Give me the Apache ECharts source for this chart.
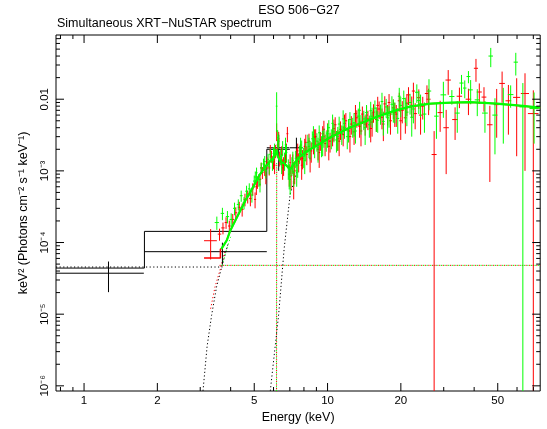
<!DOCTYPE html>
<html><head><meta charset="utf-8">
<script src="https://cdn.jsdelivr.net/npm/echarts@6/dist/echarts.min.js"></script>
<style>html,body{margin:0;padding:0;background:#fff}#c{width:547px;height:429px}</style>
</head><body><div id="c"></div>
<script>
// ---------- axis ranges & ticks ----------
const XMIN = 0.767, XMAX = 74.7, YMIN = 8.47e-7, YMAX = 0.0787;
const xMajorTicks = [1, 2, 5, 10, 20, 50];
const xTickLabels = ['1', '2', '5', '10', '20', '50'];
const xMinorTicks = [0.8, 0.9, 3, 4, 6, 7, 8, 9, 30, 40, 60, 70];
const yMajorTicks = [1e-6, 1e-5, 1e-4, 1e-3, 1e-2];
const yTickLabels = ['10\u207B\u2076', '10\u207B\u2075', '10\u207B\u2074', '10\u207B\u00B3', '0.01'];
const yMinorTicks = [2e-6,3e-6,4e-6,5e-6,6e-6,7e-6,8e-6,9e-6,
  2e-5,3e-5,4e-5,5e-5,6e-5,7e-5,8e-5,9e-5,
  2e-4,3e-4,4e-4,5e-4,6e-4,7e-4,8e-4,9e-4,
  2e-3,3e-3,4e-3,5e-3,6e-3,7e-3,8e-3,9e-3,
  2e-2,3e-2,4e-2,5e-2,6e-2,7e-2];

// ---------- model curves (E keV, E^2 F) ----------
const modelE = [3.66,3.86,3.98,4.17,4.37,4.58,4.81,5.04,5.28,5.54,5.81,6.03,6.12,6.18,6.24,6.40,6.71,7.02,7.12,7.36,7.71,8.48,9.32,10.24,11.26,12.37,14.26,16.43,18.93,21.8,26.4,31.9,38.5,49.7,61.7,74.7];
const modelF = [8.1e-5,1.08e-4,1.45e-4,1.99e-4,2.74e-4,3.77e-4,5.02e-4,6.70e-4,8.93e-4,1.12e-3,1.36e-3,1.54e-3,1.75e-3,2.0e-3,1.6e-3,1.36e-3,1.23e-3,1.05e-3,1.0e-3,1.31e-3,1.59e-3,1.99e-3,2.41e-3,2.92e-3,3.43e-3,4.02e-3,4.87e-3,5.90e-3,6.92e-3,7.87e-3,8.66e-3,8.94e-3,9.08e-3,8.66e-3,8.12e-3,7.62e-3];
const redModelStartE = [3.11, 3.63, 3.63, 3.66];
const redModelStartF = [6.1e-5, 6.1e-5, 8.1e-5, 8.1e-5];

// XRT model histogram (step)
const xrtModelE = [0.767, 1.77, 5.63, 7.0];
const xrtModelF = [4.4e-5, 1.43e-4, 2.0e-3, 2.0e-3];

// dotted components
const scatBlackE = [0.767, 3.7];
const scatBlackF = [4.55e-5, 4.55e-5];
const scatNuE = [3.6, 74.7];
const scatNuF = [4.8e-5, 4.8e-5];
const absBlackE = [3.08, 3.2, 3.34, 3.5, 3.69, 3.9];
const absBlackF = [8.5e-7, 3.5e-6, 9.6e-6, 2.4e-5, 4.8e-5, 9.5e-5];
const absRedE = [3.31, 3.45, 3.63, 3.8];
const absRedF = [1.19e-5, 2.4e-5, 4.3e-5, 8e-5];
const absGreenE = [3.69, 3.85, 4.0];
const absGreenF = [4.8e-5, 8.1e-5, 1.2e-4];
const lineGreenE = [6.17, 6.18];
const lineGreenF = [8.0e-7, 1.4e-3];
const lineRedE = [6.175, 6.185];
const lineRedF = [8.0e-7, 1.3e-3];
const xrtAbsE = [5.82, 6.3, 6.63, 7.02, 7.5];
const xrtAbsF = [8.5e-7, 1.0e-5, 8e-5, 4.7e-4, 1.0e-3];

// ---------- data: [E, half-width, E^2F, sigma] ----------
const xrtRows = [
  [1.26, 0.50, 3.73e-5, 1.7e-5],
  [3.70, 1.93, 7.45e-5, 2.5e-5],
  [6.30, 0.67, 2.1e-3, 1.1e-3],
  [7.45, 0.45, 2.1e-3, 8e-4]
];
const fpmaRows = [
  [3.31,0.20,1.06e-4,4.8e-5],[3.60,0.06,1.31e-4,2.5e-5],[3.72,0.06,1.6e-4,3.0e-5],[3.83,0.05,1.9e-4,3.5e-5],
  [3.95,0.05,1.7e-4,3.2e-5],[4.08,0.06,2.1e-4,4e-5],[4.20,0.06,2.6e-4,5e-5],[4.34,0.06,3.1e-4,6e-5],
  [4.46,0.06,2.9e-4,6e-5],[4.58,0.06,4.0e-4,8e-5],[4.70,0.06,4.4e-4,9e-5],[4.82,0.06,4.1e-4,9e-5],
  [4.93,0.05,5.6e-4,1.1e-4],[5.04,0.05,4.0e-4,1.0e-4],[5.15,0.05,7.0e-4,1.4e-4],[5.28,0.06,7.6e-4,1.5e-4],
  [5.40,0.06,9.5e-4,1.8e-4],[5.52,0.06,1.05e-3,2.0e-4],[5.64,0.06,1.3e-3,2.5e-4],[5.76,0.06,1.1e-3,2.4e-4],
  [5.88,0.06,1.6e-3,3e-4],[6.00,0.06,1.35e-3,3e-4],[6.12,0.06,1.9e-3,4e-4],[6.18,0.04,3.6e-3,1.0e-3],
  [6.24,0.06,2.3e-3,4.5e-4],[6.36,0.06,1.5e-3,3.5e-4],[6.48,0.06,1.7e-3,5e-4],[6.60,0.06,1.2e-3,3.5e-4],
  [6.72,0.06,1.6e-3,4e-4],[6.84,0.06,3.3e-3,8e-4],[6.96,0.06,9.0e-4,3e-4],[7.08,0.06,8.5e-4,3e-4],
  [7.20,0.06,1.3e-3,4e-4],[7.33,0.07,1.0e-3,3.5e-4],[7.47,0.07,1.6e-3,4.5e-4],[7.61,0.07,1.35e-3,4e-4],
  [7.75,0.07,1.9e-3,5e-4],[7.90,0.08,1.5e-3,4.5e-4],[8.06,0.08,2.2e-3,6e-4],[8.22,0.08,1.7e-3,5e-4],
  [8.39,0.09,2.6e-3,7e-4],[8.57,0.09,1.9e-3,6e-4],[8.75,0.09,2.4e-3,7e-4],[8.94,0.10,3.0e-3,8e-4],
  [9.14,0.10,2.0e-3,6e-4],[9.34,0.10,2.7e-3,8e-4],[9.55,0.11,3.3e-3,9e-4],[9.77,0.11,2.4e-3,8e-4],
  [10.0,0.12,3.6e-3,1.0e-3],[10.24,0.12,2.6e-3,8e-4],[10.49,0.13,3.1e-3,9e-4],[10.75,0.13,4.4e-3,1.2e-3],
  [11.02,0.14,2.8e-3,9e-4],[11.30,0.14,3.8e-3,1.1e-3],[11.59,0.15,3.2e-3,1.0e-3],[11.89,0.15,5.0e-3,1.4e-3],
  [12.20,0.16,3.6e-3,1.1e-3],[12.52,0.16,4.5e-3,1.3e-3],[12.85,0.17,3.5e-3,1.2e-3],[13.19,0.17,5.5e-3,1.5e-3],
  [13.54,0.18,4.2e-3,1.3e-3],[13.90,0.18,6.2e-3,1.7e-3],[14.27,0.19,4.5e-3,1.4e-3],[14.65,0.19,5.3e-3,1.6e-3],
  [15.04,0.20,3.9e-3,1.4e-3],[15.44,0.20,6.6e-3,1.9e-3],[15.86,0.21,5.2e-3,1.7e-3],[16.29,0.22,7.3e-3,2.0e-3],
  [16.73,0.22,5.6e-3,1.8e-3],[17.18,0.23,8.6e-3,2.4e-3],[17.65,0.24,6.3e-3,2.0e-3],[18.13,0.25,5.0e-3,1.8e-3],
  [18.63,0.26,7.6e-3,2.3e-3],[19.15,0.27,6.2e-3,2.1e-3],[19.70,0.28,9.5e-3,2.8e-3],[20.27,0.30,7.0e-3,2.4e-3],
  [20.87,0.31,5.5e-3,2.2e-3],[21.50,0.33,1.15e-2,3.2e-3],[22.17,0.35,8.2e-3,2.7e-3],[22.90,0.38,6.3e-3,2.5e-3],
  [23.70,0.40,1.05e-2,3.2e-3],[24.6,0.45,8.0e-3,2.8e-3],[25.6,0.5,1.2e-2,3.6e-3],
  [26.0,0.5,1.0e-2,4e-3],[27.4,0.65,1.69e-3,1.9e-3],[29.0,0.7,6.5e-3,3e-3],[30.7,0.8,4.0e-3,3.1e-3],
  [31.3,0.8,1.85e-2,7e-3],[33.4,0.9,5.2e-3,2.5e-3],[34.8,0.9,1.1e-2,3.5e-3],[37.9,1.0,1.0e-2,4e-3],
  [40.7,0.8,2.7e-2,9.5e-3],[42.0,1.0,1.26e-2,4e-3],[43.9,1.0,1.07e-2,4e-3],[46.4,1.2,4.4e-3,3.7e-3],
  [49.5,1.3,8.4e-3,5.5e-3],[52.1,1.4,1.66e-2,7.7e-3],[55.3,1.5,9.5e-3,6.3e-3],[59.8,2.0,1.06e-2,9e-3],
  [64.7,2.5,1.2e-2,1.1e-2],[70.0,3.5,6.3e-3,7e-3],
  [5.10,0.05,6.0e-4,1.4e-4],[5.34,0.05,1.1e-3,2e-4],[5.58,0.05,8.5e-4,2e-4],[5.82,0.05,1.9e-3,4e-4],
  [6.06,0.05,1.2e-3,3e-4],[6.30,0.05,2.8e-3,7e-4],[6.54,0.05,1.1e-3,3.5e-4],[6.78,0.05,1.9e-3,5e-4],
  [7.02,0.05,1.3e-3,4e-4],[7.26,0.06,7.0e-4,3e-4],[7.54,0.06,1.9e-3,5e-4],[7.83,0.07,1.2e-3,4.5e-4],
  [8.14,0.07,2.5e-3,7e-4],[8.48,0.08,1.5e-3,5.5e-4],[8.85,0.08,2.9e-3,9e-4],[9.24,0.09,1.8e-3,7e-4],
  [9.66,0.10,3.8e-3,1.2e-3],[10.12,0.11,2.2e-3,8e-4],[10.62,0.12,3.9e-3,1.3e-3],[11.16,0.13,2.6e-3,1.0e-3],
  [11.74,0.14,4.6e-3,1.5e-3],[12.36,0.15,3.0e-3,1.2e-3],[13.02,0.16,6.3e-3,2e-3],[13.72,0.17,3.6e-3,1.4e-3],
  [14.46,0.18,6.0e-3,2e-3],[15.24,0.19,4.8e-3,1.8e-3],[16.07,0.20,8.2e-3,2.6e-3],[16.95,0.21,4.5e-3,1.9e-3],
  [17.89,0.23,9.0e-3,2.8e-3],[18.89,0.25,6.5e-3,2.4e-3],[19.98,0.27,5.0e-3,2.3e-3],[21.17,0.30,8.8e-3,3.0e-3],
  [22.52,0.33,1.3e-2,4e-3],[24.1,0.38,6.0e-3,2.8e-3]
];
const fpmbRows = [
  [3.51,0.07,1.9e-4,4e-5],[3.70,0.06,2.55e-4,5e-5],[3.88,0.06,2.3e-4,4.5e-5],[4.02,0.06,2.1e-4,4.5e-5],
  [4.15,0.06,3.0e-4,6e-5],[4.30,0.06,3.4e-4,6e-5],[4.42,0.06,4.5e-4,8e-5],[4.54,0.06,3.6e-4,7e-5],
  [4.65,0.06,5.2e-4,1e-4],[4.77,0.06,5.6e-4,1.1e-4],[4.89,0.06,4.6e-4,1e-4],[5.00,0.06,7.2e-4,1.4e-4],
  [5.11,0.05,9.4e-4,1.7e-4],[5.22,0.05,7.5e-4,1.5e-4],[5.34,0.06,1.1e-3,2.0e-4],[5.46,0.06,1.25e-3,2.3e-4],
  [5.58,0.06,1.0e-3,2.2e-4],[5.70,0.06,1.45e-3,2.8e-4],[5.82,0.06,1.7e-3,3.2e-4],[5.94,0.06,1.3e-3,3e-4],
  [6.06,0.06,2.0e-3,4e-4],[6.18,0.05,8.0e-3,4.5e-3],[6.30,0.06,2.6e-3,6e-4],[6.42,0.06,1.6e-3,4e-4],
  [6.54,0.06,2.1e-3,5e-4],[6.66,0.06,1.4e-3,4e-4],[6.78,0.06,1.8e-3,5e-4],[6.90,0.06,1.1e-3,3.5e-4],
  [7.02,0.06,7.6e-4,3e-4],[7.14,0.06,1.2e-3,3.5e-4],[7.27,0.07,9.5e-4,3.5e-4],[7.40,0.07,1.5e-3,4e-4],
  [7.54,0.07,1.2e-3,4e-4],[7.68,0.07,1.75e-3,5e-4],[7.83,0.08,2.1e-3,5.5e-4],[7.98,0.08,1.6e-3,5e-4],
  [8.14,0.08,1.9e-3,5.5e-4],[8.30,0.08,2.5e-3,7e-4],[8.48,0.09,2.0e-3,6e-4],[8.66,0.09,2.8e-3,7.5e-4],
  [8.85,0.10,2.2e-3,7e-4],[9.04,0.10,2.6e-3,7.5e-4],[9.24,0.10,3.4e-3,9e-4],[9.45,0.11,2.3e-3,7.5e-4],
  [9.66,0.11,3.0e-3,9e-4],[9.88,0.11,2.7e-3,8.5e-4],[10.12,0.12,4.0e-3,1.1e-3],[10.36,0.12,2.9e-3,9e-4],
  [10.62,0.13,3.5e-3,1.0e-3],[10.88,0.13,2.7e-3,9e-4],[11.16,0.14,4.5e-3,1.2e-3],[11.44,0.14,3.3e-3,1.0e-3],
  [11.74,0.15,4.0e-3,1.2e-3],[12.05,0.15,3.0e-3,1.0e-3],[12.36,0.16,5.2e-3,1.4e-3],[12.69,0.16,4.2e-3,1.3e-3],
  [13.02,0.17,3.6e-3,1.2e-3],[13.37,0.17,5.8e-3,1.6e-3],[13.72,0.18,4.6e-3,1.4e-3],[14.09,0.18,5.3e-3,1.6e-3],
  [14.46,0.19,6.5e-3,1.8e-3],[14.85,0.19,4.4e-3,1.5e-3],[15.24,0.20,5.8e-3,1.8e-3],[15.65,0.21,7.5e-3,2.1e-3],
  [16.07,0.21,5.1e-3,1.7e-3],[16.51,0.22,6.4e-3,2.0e-3],[16.95,0.23,4.9e-3,1.8e-3],[17.41,0.23,7.8e-3,2.3e-3],
  [17.89,0.24,6.0e-3,2.0e-3],[18.38,0.25,8.5e-3,2.5e-3],[18.89,0.26,6.8e-3,2.2e-3],[19.42,0.27,5.4e-3,2.1e-3],
  [19.98,0.29,8.2e-3,2.6e-3],[20.56,0.30,1.02e-2,3.0e-3],[21.17,0.32,6.6e-3,2.4e-3],[21.82,0.34,9.0e-3,2.9e-3],
  [22.52,0.36,7.3e-3,2.7e-3],[23.26,0.39,1.25e-2,3.6e-3],[24.1,0.42,8.6e-3,3.0e-3],[25.0,0.46,6.2e-3,2.8e-3],
  [26.1,0.55,1.3e-2,6e-3],[28.0,0.6,5.8e-3,3e-3],[29.9,0.8,1.15e-2,6e-3],[32.4,0.8,1.09e-2,2.5e-3],
  [34.1,0.8,6.4e-3,3e-3],[35.5,0.7,1.68e-2,5e-3],[36.6,0.6,1.43e-2,4e-3],[37.9,0.7,2.07e-2,4e-3],
  [38.7,0.8,1.35e-2,5e-3],[41.2,1.0,9.8e-3,4e-3],[44.3,1.2,6.4e-3,3e-3],[46.8,1.0,4.0e-2,1.2e-2],
  [48.7,1.2,6.0e-3,4.3e-3],[52.7,1.5,8.4e-3,6e-3],[56.5,1.5,1.16e-2,4e-3],[59.3,1.2,3.29e-2,1.15e-2],
  [63.4,2.0,7.8e-3,9e-3],[70.5,3.0,7.4e-3,5e-3],
  [5.05,0.05,8.2e-4,1.6e-4],[5.28,0.05,6.5e-4,1.5e-4],[5.52,0.05,1.35e-3,2.6e-4],[5.76,0.05,1.15e-3,2.6e-4],
  [6.00,0.05,1.75e-3,4e-4],[6.24,0.05,2.9e-3,8e-4],[6.48,0.05,1.3e-3,4e-4],[6.72,0.05,2.3e-3,6e-4],
  [6.96,0.05,9.0e-4,3.5e-4],[7.20,0.06,1.4e-3,4.5e-4],[7.47,0.06,1.0e-3,4e-4],[7.75,0.07,2.3e-3,6e-4],
  [8.06,0.07,1.4e-3,5e-4],[8.39,0.08,2.2e-3,7e-4],[8.75,0.08,3.2e-3,1.0e-3],[9.14,0.09,2.1e-3,8e-4],
  [9.55,0.10,2.6e-3,1.0e-3],[10.0,0.11,3.3e-3,1.2e-3],[10.49,0.12,4.6e-3,1.5e-3],[11.02,0.13,3.0e-3,1.1e-3],
  [11.59,0.14,5.3e-3,1.7e-3],[12.20,0.15,3.9e-3,1.4e-3],[12.85,0.16,4.7e-3,1.7e-3],[13.54,0.17,7.0e-3,2.2e-3],
  [14.27,0.18,4.0e-3,1.7e-3],[15.04,0.19,6.9e-3,2.3e-3],[15.86,0.20,5.6e-3,2.1e-3],[16.73,0.21,9.3e-3,3.0e-3],
  [17.65,0.23,5.5e-3,2.2e-3],[18.63,0.25,7.3e-3,2.6e-3],[19.70,0.27,1.1e-2,3.4e-3],[20.87,0.30,7.6e-3,2.9e-3],
  [22.17,0.33,5.6e-3,2.6e-3],[23.70,0.37,9.6e-3,3.4e-3]
];

// ---------- chart ----------
const FONT = '"Liberation Sans", Arial, sans-serif';
const pairs = (xs, ys) => xs.map((x, i) => [x, ys[i]]);
const chart = echarts.init(document.getElementById('c'), null, {renderer: 'canvas'});

function errSeries(rows, color, z) {
  return {
    type: 'custom', z: z, silent: true, clip: true,
    encode: {x: 0, y: 2},
    data: rows,
    renderItem: function (params, api) {
      const E = api.value(0), hw = api.value(1), F = api.value(2), s = api.value(3);
      const lo = Math.max(F - s, YMIN), hi = Math.min(F + s, YMAX);
      const a = api.coord([E - hw, F]), b = api.coord([E + hw, F]);
      const c = api.coord([E, lo]), d = api.coord([E, hi]);
      return {type: 'group', children: [
        {type: 'line', shape: {x1: a[0], y1: a[1], x2: b[0], y2: b[1]}, style: {stroke: color, lineWidth: 1}},
        {type: 'line', shape: {x1: c[0], y1: c[1], x2: d[0], y2: d[1]}, style: {stroke: color, lineWidth: 1}}
      ]};
    }
  };
}
function lineSeries(xs, ys, color, width, dotted, z, step, offset) {
  const s = {type: 'line', data: pairs(xs, ys), symbol: 'none', silent: true, z: z,
    lineStyle: {color: color, width: width, type: dotted ? [1.2, 2.4] : 'solid', dashOffset: offset || 0}};
  if (step) s.step = step;
  return s;
}

const xTickData = xMajorTicks.map((v, i) => [v, YMIN, 1, i]).concat(xMinorTicks.map(v => [v, YMIN, 0, -1]));
const yTickData = yMajorTicks.map((v, i) => [XMIN, v, 1, i]).concat(yMinorTicks.map(v => [XMIN, v, 0, -1]));

const option = {
  animation: false,
  grid: {left: 56, top: 35, width: 484.2, height: 357.7, show: true, borderColor: '#000', borderWidth: 1, backgroundColor: 'transparent'},
  xAxis: {type: 'log', logBase: 10, min: XMIN, max: XMAX,
    axisLine: {show: false}, axisTick: {show: false}, axisLabel: {show: false}, splitLine: {show: false},
    name: 'Energy (keV)', nameLocation: 'middle', nameGap: 20,
    nameTextStyle: {fontSize: 12.5, color: '#000', fontFamily: FONT}},
  yAxis: {type: 'log', logBase: 10, min: YMIN, max: YMAX,
    axisLine: {show: false}, axisTick: {show: false}, axisLabel: {show: false}, splitLine: {show: false},
    name: 'keV\u00B2 (Photons cm\u207B\u00B2 s\u207B\u00B9 keV\u207B\u00B9)', nameLocation: 'middle', nameRotate: 90, nameGap: 26,
    nameTextStyle: {fontSize: 12.5, color: '#000', fontFamily: FONT}},
  graphic: [
    {type: 'text', x: 299, y: 11, style: {text: 'ESO 506\u2212G27', fill: '#000', font: '12.5px ' + FONT, align: 'center', verticalAlign: 'middle'}},
    {type: 'text', x: 57, y: 24, style: {text: 'Simultaneous XRT\u2212NuSTAR spectrum', fill: '#000', font: '12.5px ' + FONT, align: 'left', verticalAlign: 'middle'}}
  ],
  series: [
    lineSeries(scatBlackE, scatBlackF, '#000', 1, true, 2),
    lineSeries(scatNuE, scatNuF, '#ff0000', 1, true, 2, null, 0),
    lineSeries(scatNuE, scatNuF, '#00ff00', 1, true, 2, null, 1.8),
    lineSeries(absBlackE, absBlackF, '#000', 1, true, 2),
    lineSeries(absRedE, absRedF, '#ff0000', 1, true, 2),
    lineSeries(absGreenE, absGreenF, '#00ff00', 1, true, 2),
    lineSeries(lineRedE, lineRedF, '#ff0000', 1, true, 2, null, 0),
    lineSeries(lineGreenE, lineGreenF, '#00ff00', 1, true, 2, null, 1.8),
    lineSeries(xrtAbsE, xrtAbsF, '#000', 1, true, 2),
    lineSeries(xrtModelE, xrtModelF, '#000', 1, false, 3, 'end'),
    errSeries(xrtRows, '#000', 4),
    errSeries(fpmaRows, '#ff0000', 5),
    errSeries(fpmbRows, '#00ff00', 6),
    lineSeries(redModelStartE, redModelStartF, '#ff0000', 1.5, false, 7),
    lineSeries(modelE, modelF, '#ff0000', 1.5, false, 7),
    lineSeries(modelE, modelF, '#00ff00', 2.2, false, 8),
    {
      type: 'custom', z: 10, silent: true, encode: {x: 0, y: 1}, data: xTickData,
      renderItem: function (params, api) {
        const v = api.value(0), major = api.value(2) === 1, li = api.value(3);
        const pb = api.coord([v, YMIN]), pt = api.coord([v, YMAX]);
        const len = major ? 8 : 4;
        const kids = [
          {type: 'line', shape: {x1: pb[0], y1: pb[1], x2: pb[0], y2: pb[1] - len}, style: {stroke: '#000', lineWidth: 1}},
          {type: 'line', shape: {x1: pt[0], y1: pt[1], x2: pt[0], y2: pt[1] + len}, style: {stroke: '#000', lineWidth: 1}}
        ];
        if (major) kids.push({type: 'text', x: pb[0], y: pb[1] + 10, style: {text: xTickLabels[li], fill: '#000', font: '11.5px ' + FONT, align: 'center', verticalAlign: 'middle'}});
        return {type: 'group', children: kids};
      }
    },
    {
      type: 'custom', z: 10, silent: true, encode: {x: 0, y: 1}, data: yTickData,
      renderItem: function (params, api) {
        const v = api.value(1), major = api.value(2) === 1, li = api.value(3);
        const pl = api.coord([XMIN, v]), pr = api.coord([XMAX, v]);
        const len = major ? 8 : 4;
        const kids = [
          {type: 'line', shape: {x1: pl[0], y1: pl[1], x2: pl[0] + len, y2: pl[1]}, style: {stroke: '#000', lineWidth: 1}},
          {type: 'line', shape: {x1: pr[0], y1: pr[1], x2: pr[0] - len, y2: pr[1]}, style: {stroke: '#000', lineWidth: 1}}
        ];
        if (major) kids.push({type: 'text', x: pl[0] - 11, y: pl[1], rotation: Math.PI / 2, style: {text: yTickLabels[li], fill: '#000', font: '11.5px ' + FONT, align: 'center', verticalAlign: 'middle'}});
        return {type: 'group', children: kids};
      }
    }
  ]
};
chart.setOption(option);
</script></body></html>
